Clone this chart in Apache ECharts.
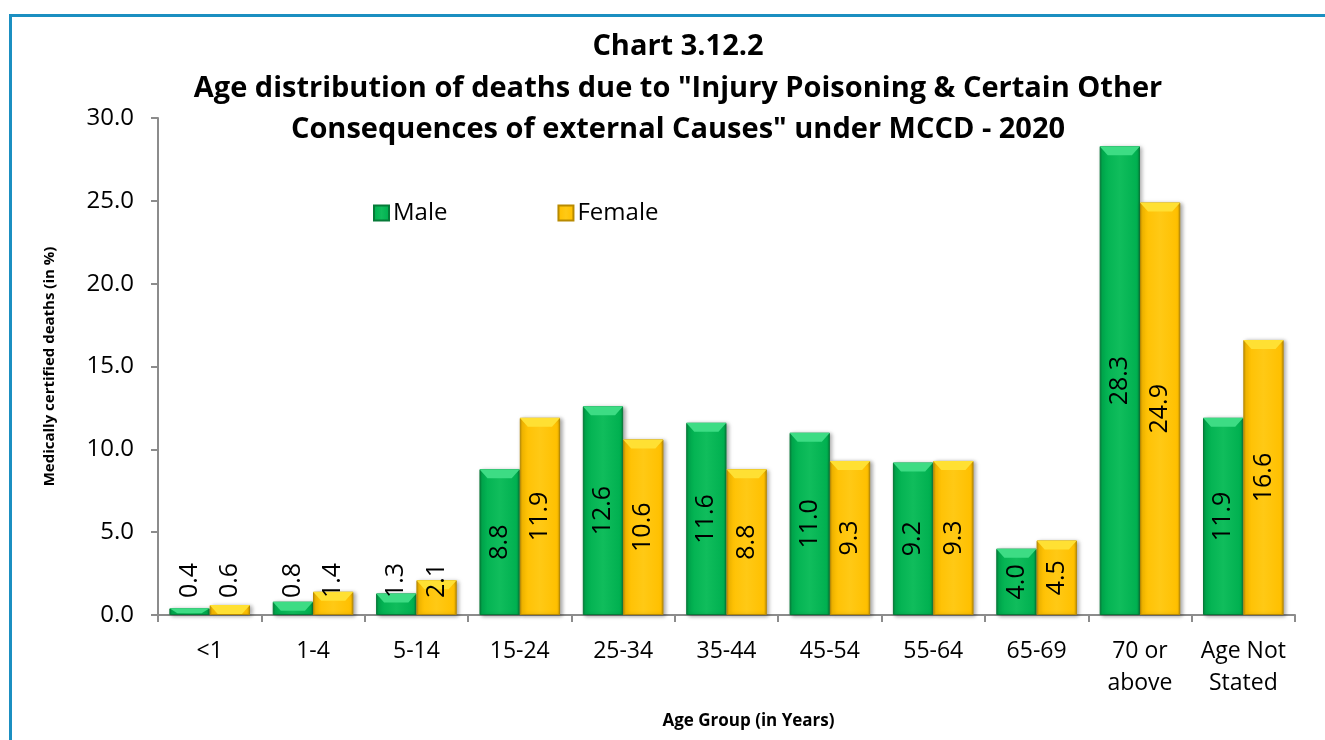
<!DOCTYPE html>
<html>
<head>
<meta charset="utf-8">
<script src="https://cdn.jsdelivr.net/npm/echarts@6/dist/echarts.min.js"></script>
<style>
  html, body { margin: 0; padding: 0; background: #fff; }
  #frame {
    position: absolute; left: 9px; top: 14px; width: 1316px; height: 726px;
    border-left: 3px solid #1b8fc1; border-top: 3px solid #1b8fc1;
  }
  #chart { position: absolute; left: 0; top: 0; width: 1325px; height: 740px; }
</style>
</head>
<body>
<div id="frame"></div>
<div id="chart"></div>
<script>
const categories = ['<1', '1-4', '5-14', '15-24', '25-34', '35-44', '45-54', '55-64', '65-69', '70 or\nabove', 'Age Not\nStated']
const maleValues = [0.4, 0.8, 1.3, 8.8, 12.6, 11.6, 11.0, 9.2, 4.0, 28.3, 11.9]
const femaleValues = [0.6, 1.4, 2.1, 11.9, 10.6, 8.8, 9.3, 9.3, 4.5, 24.9, 16.6]
const yTicks = { min: 0, max: 30, interval: 5 }

const FONT = '"Open Sans", sans-serif'
const BEVEL = 'path://M0,0 L100,0 L80,50 L20,50 Z'

function barGradient(edge, body, light) {
  return new echarts.graphic.LinearGradient(0, 0, 1, 0, [
    { offset: 0, color: edge },
    { offset: 0.07, color: body },
    { offset: 0.5, color: light },
    { offset: 0.93, color: body },
    { offset: 1, color: edge }
  ])
}

const labelBase = {
  show: true,
  rotate: 90,
  fontFamily: FONT,
  fontSize: 25,
  color: '#000',
  formatter: p => p.value.toFixed(1)
}
const bigLabel = Object.assign({}, labelBase, { position: 'inside' })
const smallLabel = Object.assign({}, labelBase, {
  position: 'insideBottom',
  align: 'left',
  verticalAlign: 'middle',
  distance: 17
})

// bevel caps on top of the bars; the value labels ride on this series so they stay above the caps
function toBevel(values) {
  return values.map(v => ({
    value: v,
    symbolSize: ['100%', v < 0.5 ? 5 : 9],
    label: v < 3 ? smallLabel : bigLabel
  }))
}

function bevelSeries(name, values, color) {
  return {
    name: name,
    type: 'pictorialBar',
    data: toBevel(values),
    symbol: BEVEL,
    symbolPosition: 'end',
    barGap: '0%',
    barCategoryGap: '22%',
    silent: true,
    z: 3,
    itemStyle: { color: color }
  }
}

const chart = echarts.init(document.getElementById('chart'))
chart.setOption({
  animation: false,
  title: {
    text: 'Chart 3.12.2\nAge distribution of deaths due to "Injury Poisoning & Certain Other\nConsequences of external Causes" under MCCD - 2020',
    left: 673,
    textAlign: 'center',
    top: 21,
    textStyle: { fontFamily: FONT, fontSize: 29, fontWeight: 'bold', color: '#000', lineHeight: 41.5 }
  },
  legend: {
    left: 368,
    top: 196,
    itemWidth: 15,
    itemHeight: 15,
    itemGap: 110,
    icon: 'rect',
    textStyle: { fontFamily: FONT, fontSize: 24, color: '#000', padding: [0, 0, 0, -1] },
    data: ['Male', 'Female']
  },
  grid: { left: 158, right: 30, top: 118, bottom: 125 },
  xAxis: {
    type: 'category',
    data: categories,
    name: 'Age Group (in Years)',
    nameLocation: 'center',
    nameGap: 98,
    nameTextStyle: { fontFamily: FONT, fontSize: 17, fontWeight: 'bold', color: '#000', padding: [0, 0, 0, 44] },
    axisLine: { lineStyle: { color: '#8c8c8c', width: 2 } },
    axisTick: { show: true, length: 7, lineStyle: { color: '#8c8c8c', width: 2 } },
    axisLabel: { interval: 0, fontFamily: FONT, fontSize: 23, color: '#000', margin: 20, lineHeight: 32 }
  },
  yAxis: {
    type: 'value',
    min: yTicks.min,
    max: yTicks.max,
    interval: yTicks.interval,
    name: 'Medically certified deaths (in %)',
    nameLocation: 'center',
    nameGap: 101,
    nameTextStyle: { fontFamily: FONT, fontSize: 15, fontWeight: 'bold', color: '#000' },
    splitLine: { show: false },
    axisLine: { show: true, lineStyle: { color: '#8c8c8c', width: 2 } },
    axisTick: { show: true, length: 7, lineStyle: { color: '#8c8c8c', width: 2 } },
    axisLabel: { fontFamily: FONT, fontSize: 24, color: '#000', margin: 24, formatter: v => v.toFixed(1) }
  },
  series: [
    {
      name: 'Male',
      type: 'bar',
      data: maleValues,
      barGap: '0%',
      barCategoryGap: '22%',
      itemStyle: {
        color: barGradient('#05843c', '#00b050', '#10bd5c'),
        borderColor: '#067a38',
        borderWidth: 1,
        shadowColor: 'rgba(0,0,0,0.35)',
        shadowBlur: 4,
        shadowOffsetX: 2,
        shadowOffsetY: 1
      }
    },
    {
      name: 'Female',
      type: 'bar',
      data: femaleValues,
      itemStyle: {
        color: barGradient('#c99500', '#ffc000', '#ffc915'),
        borderColor: '#b88a00',
        borderWidth: 1,
        shadowColor: 'rgba(0,0,0,0.35)',
        shadowBlur: 4,
        shadowOffsetX: 2,
        shadowOffsetY: 1
      }
    },
    bevelSeries('Male', maleValues, '#3ddc84'),
    bevelSeries('Female', femaleValues, '#ffe033')
  ]
})
</script>
</body>
</html>
